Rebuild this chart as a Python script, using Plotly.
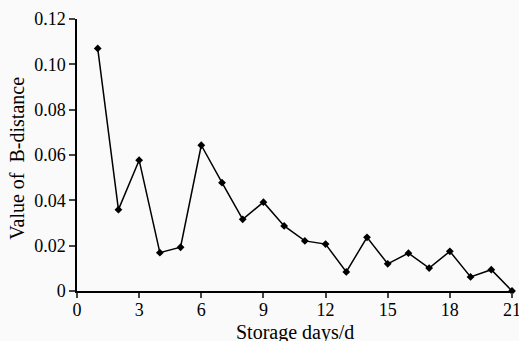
import plotly.graph_objects as go

days = list(range(1, 22))
b_distance = [0.107, 0.0359, 0.0577, 0.0169, 0.0193, 0.0643, 0.0478, 0.0316, 0.0392,
              0.0287, 0.0221, 0.0207, 0.0084, 0.0237, 0.0120, 0.0167, 0.0101, 0.0175,
              0.0062, 0.0094, 0.0]
x_ticks = [0, 3, 6, 9, 12, 15, 18, 21]
y_ticks = [0, 0.02, 0.04, 0.06, 0.08, 0.10, 0.12]
y_tick_text = ["0", "0.02", "0.04", "0.06", "0.08", "0.10", "0.12"]

fig = go.Figure()
fig.add_trace(go.Scatter(
    x=days, y=b_distance, mode="lines+markers",
    line=dict(color="black", width=1.5),
    marker=dict(symbol="diamond", size=6, color="black"),
    cliponaxis=False,
))

font = dict(family="Liberation Serif, Times New Roman, serif", size=18, color="black")
title_font = dict(family="Liberation Serif, Times New Roman, serif", size=20, color="black")

fig.update_layout(
    width=519, height=341,
    margin=dict(l=77, r=7, t=19, b=50),
    paper_bgcolor="#fafafa", plot_bgcolor="#fafafa",
    showlegend=False,
    font=font,
    xaxis=dict(
        range=[0, 21], tickvals=x_ticks, ticks="outside", ticklen=5, tickwidth=1.5,
        showline=True, linecolor="black", linewidth=1.5, showgrid=False, zeroline=False,
        tickfont=font, automargin=False, ticklabeloverflow="allow",
        ticklabelstandoff=-3,
    ),
    yaxis=dict(
        range=[0, 0.12], tickvals=y_ticks, ticktext=y_tick_text, ticks="outside",
        ticklen=6, tickwidth=1.5,
        showline=True, linecolor="black", linewidth=1.5, showgrid=False, zeroline=False,
        tickfont=font, automargin=False, ticklabeloverflow="allow",
    ),
    annotations=[
        dict(text="Storage days/d", xref="paper", yref="paper", x=0.5, y=-0.151,
             xanchor="center", yanchor="middle", showarrow=False, font=title_font),
        dict(text="Value of  B-distance", xref="paper", yref="paper", x=-0.138, y=0.49,
             xanchor="center", yanchor="middle", textangle=-90, showarrow=False,
             font=title_font),
    ],
)

fig.write_html("out.html")
